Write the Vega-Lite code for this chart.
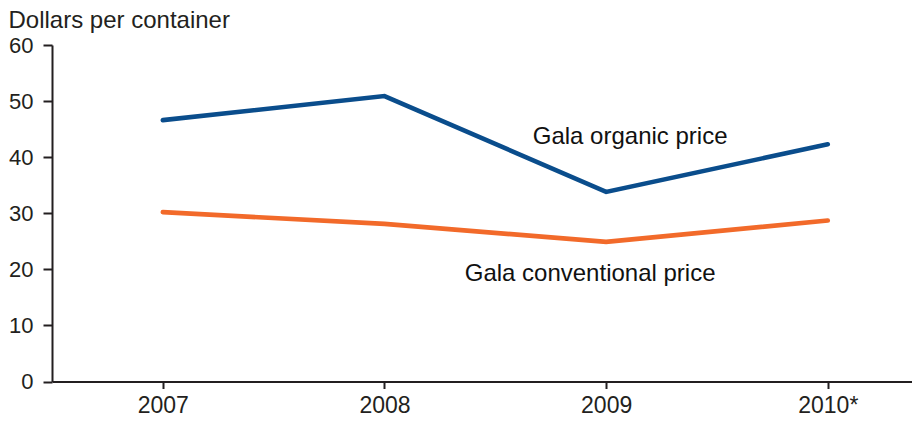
{
  "$schema": "https://vega.github.io/schema/vega-lite/v6.json",
  "width": 860,
  "height": 336.5,
  "autosize": {"type": "none"},
  "padding": {"left": 52, "top": 45, "right": 0, "bottom": 42.5},
  "background": "white",
  "config": {
    "view": {"stroke": null},
    "font": "Liberation Sans",
    "axis": {
      "domainColor": "#231f20",
      "domainWidth": 2,
      "tickColor": "#231f20",
      "tickWidth": 2,
      "labelColor": "#231f20",
      "titleColor": "#231f20",
      "grid": false,
      "labelFont": "Liberation Sans",
      "titleFont": "Liberation Sans"
    }
  },
  "data": {
    "values": [
      {"year": 2007, "series": "organic", "price": 46.6},
      {"year": 2008, "series": "organic", "price": 50.9},
      {"year": 2009, "series": "organic", "price": 33.8},
      {"year": 2010, "series": "organic", "price": 42.3},
      {"year": 2007, "series": "conventional", "price": 30.2},
      {"year": 2008, "series": "conventional", "price": 28.1},
      {"year": 2009, "series": "conventional", "price": 24.9},
      {"year": 2010, "series": "conventional", "price": 28.7}
    ]
  },
  "encoding": {
    "x": {
      "field": "year",
      "type": "quantitative",
      "scale": {"domain": [2006.5, 2010.38], "nice": false, "zero": false},
      "axis": {
        "title": null,
        "values": [2007, 2008, 2009, 2010],
        "labelExpr": "datum.value == 2010 ? '2010*' : '' + datum.value",
        "labelFontSize": 23,
        "tickSize": 7,
        "labelPadding": 6,
        "labelFlush": false
      }
    },
    "y": {
      "field": "price",
      "type": "quantitative",
      "scale": {"domain": [0, 60], "nice": false},
      "axis": {
        "values": [0, 10, 20, 30, 40, 50, 60],
        "labelFontSize": 22,
        "tickSize": 9,
        "labelPadding": 10,
        "title": "Dollars per container",
        "titleAngle": 0,
        "titleAlign": "left",
        "titleBaseline": "alphabetic",
        "titleFontWeight": "normal",
        "titleFontSize": 24,
        "titleX": -44,
        "titleY": -18
      }
    },
    "color": {
      "field": "series",
      "type": "nominal",
      "scale": {"domain": ["organic", "conventional"], "range": ["#0a4d8c", "#f26a2a"]},
      "legend": null
    }
  },
  "layer": [
    {
      "mark": {"type": "line", "strokeWidth": 4.6, "strokeCap": "round", "clip": false}
    },
    {
      "transform": [{"filter": "datum.series == 'organic' && datum.year == 2009"}],
      "mark": {"type": "text", "fontSize": 24, "align": "center", "baseline": "alphabetic", "dx": 24, "dy": -48, "color": "#111111"},
      "encoding": {"text": {"value": "Gala organic price"}, "color": {"value": "#111111"}}
    },
    {
      "transform": [{"filter": "datum.series == 'conventional' && datum.year == 2009"}],
      "mark": {"type": "text", "fontSize": 24, "align": "center", "baseline": "alphabetic", "dx": -16, "dy": 39, "color": "#111111"},
      "encoding": {"text": {"value": "Gala conventional price"}, "color": {"value": "#111111"}}
    }
  ]
}
